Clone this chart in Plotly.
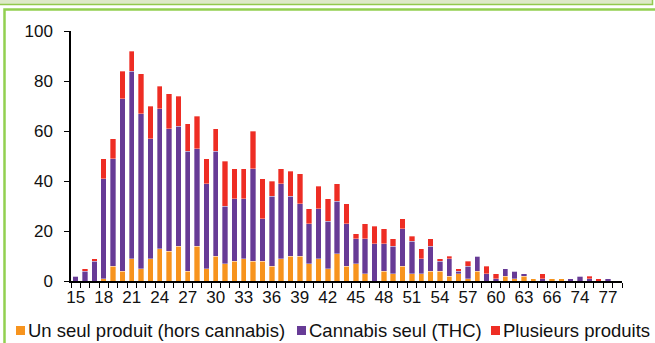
import plotly.graph_objects as go

# ---- data ----
ages = [str(a) for a in range(15, 67)] + ["68", "70", "74", "75", "76", "77", "78"]

un_seul_produit = [0, 0, 0, 1, 6, 4, 9, 5, 9, 13, 12, 14, 4, 14, 5, 10, 7, 8, 9, 8,
                   8, 6, 9, 10, 10, 7, 9, 5, 11, 6, 7, 3, 0, 4, 3, 6, 3, 3, 4, 4,
                   2, 3, 1, 4, 0, 0, 2, 1, 2, 1, 0, 1, 1, 0, 0, 0, 0, 0, 0]
cannabis_seul = [2, 4, 8, 40, 43, 69, 75, 62, 48, 56, 49, 48, 48, 39, 34, 42, 23, 25, 24, 37,
                 17, 28, 30, 24, 21, 16, 20, 19, 21, 17, 10, 14, 15, 11, 11, 15, 13, 6, 10, 4,
                 7, 1, 5, 6, 3, 1, 3, 3, 1, 0, 1, 0, 0, 1, 2, 1, 0, 1, 0]
plusieurs_produits = [0, 1, 1, 8, 8, 11, 8, 16, 13, 9, 14, 12, 11, 13, 10, 9, 18, 12, 12, 15,
                      16, 6, 6, 10, 12, 6, 9, 9, 7, 8, 2, 6, 7, 6, 3, 4, 2, 4, 3, 1,
                      1, 1, 2, 0, 3, 2, 0, 0, 0, 0, 2, 0, 0, 0, 0, 1, 1, 0, 0]

series_names = ["Un seul produit (hors cannabis)", "Cannabis seul (THC)", "Plusieurs produits"]
series_colors = ["#F7941E", "#673B96", "#EE2D24"]
tick_labels = [a if i % 3 == 0 else "" for i, a in enumerate(ages)]
y_ticks = [0, 20, 40, 60, 80, 100]

# ---- layout geometry ----
W, H = 655, 343
ML, MR, MT, MB = 71, 33, 31, 62
PW, PH = W - ML - MR, H - MT - MB


def px(x):
    return (x - ML) / PW


def py(y):
    return (H - MB - y) / PH


FONT = "Liberation Sans, Arial, sans-serif"

fig = go.Figure()
for name, vals, col in zip(series_names, [un_seul_produit, cannabis_seul, plusieurs_produits], series_colors):
    fig.add_trace(go.Bar(
        x=ages, y=vals, name=name,
        marker=dict(color=col, line=dict(color="rgba(255,255,255,0.55)", width=0.6)),
        showlegend=False,
    ))

shapes = [
    # top neighbour box
    dict(type="rect", xref="paper", yref="paper", x0=px(-4), x1=px(652.5), y0=py(4.5), y1=py(-6),
         fillcolor="#DDE9C8", line=dict(color="#92C94E", width=1.5), layer="below"),
    # chart frame
    dict(type="rect", xref="paper", yref="paper", x0=px(4.5), x1=px(670), y0=py(370), y1=py(9.5),
         fillcolor="rgba(0,0,0,0)", line=dict(color="#92D050", width=2.5), layer="below"),
]

annotations = []
leg_x = [16, 297, 491]
leg_y = 330.5
for name, col, x0 in zip(series_names, series_colors, leg_x):
    shapes.append(dict(type="rect", xref="paper", yref="paper", x0=px(x0), x1=px(x0 + 9),
                       y0=py(leg_y + 4.5), y1=py(leg_y - 4.5), fillcolor=col, line=dict(width=0)))
    annotations.append(dict(text=name, xref="paper", yref="paper", x=px(x0 + 10), y=py(leg_y),
                            xanchor="left", yanchor="middle", showarrow=False,
                            font=dict(family=FONT, size=18.5, color="#111111")))

fig.update_layout(
    width=W, height=H,
    margin=dict(l=ML, r=MR, t=MT, b=MB, pad=0),
    barmode="stack", bargap=0.42,
    paper_bgcolor="white", plot_bgcolor="white",
    font=dict(family=FONT, size=17, color="#111111"),
    shapes=shapes, annotations=annotations,
    xaxis=dict(type="category", tickmode="array", tickvals=ages, ticktext=tick_labels,
               tickson="boundaries", ticks="outside", ticklen=5, tickwidth=1.3, tickcolor="black",
               showline=True, linecolor="black", linewidth=1.8, showgrid=False, zeroline=False,
               tickangle=0, tickfont=dict(size=17)),
    yaxis=dict(range=[0, 100], tickmode="array", tickvals=y_ticks,
               ticks="outside", ticklen=5, tickwidth=1.3, tickcolor="black",
               showline=True, linecolor="black", linewidth=1.5, showgrid=False, zeroline=False,
               ticklabelstandoff=8, tickfont=dict(size=17)),
)

fig.write_html("out.html", config={"displayModeBar": False},
               post_script="document.body.style.margin='0';document.body.style.overflow='hidden';")
